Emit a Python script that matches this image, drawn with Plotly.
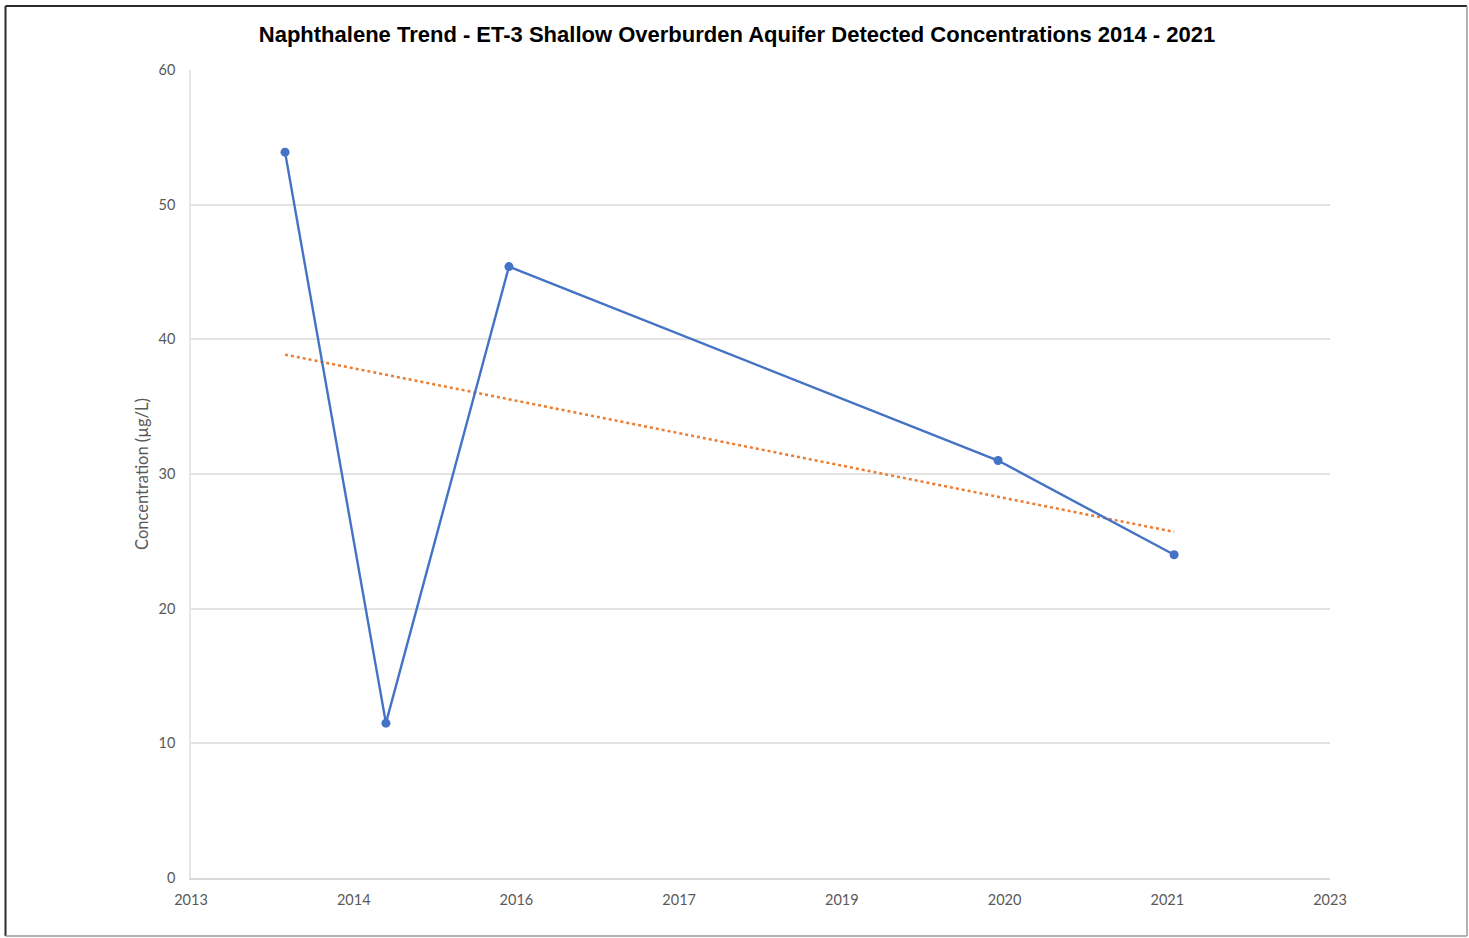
import numpy as np
import pandas as pd
import plotly.graph_objects as go

# Sampling dates and detected naphthalene concentrations (µg/L) at ET-3
sample_dates = ["2014-04-30", "2015-03-06", "2016-03-18", "2020-04-29", "2021-10-22"]
concentrations = [53.9, 11.5, 45.4, 31.0, 24.0]

# Date axis: 500-day major unit starting mid-2013
axis_start = "2013-07-15"
major_unit_days = 500
n_ticks = 8

y_ticks = [0, 10, 20, 30, 40, 50, 60]

BLUE = "#4472C4"
ORANGE = "#ED7D31"
GREY_TXT = "#595959"
GRID = "#E3E3E3"

dates = pd.to_datetime(sample_dates)
tick_dates = pd.date_range(axis_start, periods=n_ticks, freq=f"{major_unit_days}D")

# Linear trendline (least squares on date ordinal)
x_num = np.array([d.toordinal() for d in dates], dtype=float)
slope, intercept = np.polyfit(x_num, np.array(concentrations), 1)
trend_x = [dates[0], dates[-1]]
trend_y = [slope * x_num[0] + intercept, slope * x_num[-1] + intercept]

fig = go.Figure()
fig.add_trace(go.Scatter(
    x=trend_x, y=trend_y, mode="lines",
    line=dict(color=ORANGE, width=2.5, dash="dot"),
    hoverinfo="skip", showlegend=False,
))
fig.add_trace(go.Scatter(
    x=dates, y=concentrations, mode="lines+markers",
    line=dict(color=BLUE, width=2.4),
    marker=dict(color=BLUE, size=9),
    showlegend=False,
))

W, H = 1469, 938
L, R, T, B = 191, 139, 70, 60
pw, ph = W - L - R, H - T - B


def px_x(p):
    return (p - L) / pw


def px_y(p):
    return (H - B - p) / ph


# Outer chart frame: darker on left/top, lighter on right/bottom
frame = [
    (px_x(5.5), px_y(6), px_x(5.5), px_y(936), "#2b2b2b", 2),
    (px_x(5.5), px_y(6), px_x(1467), px_y(6), "#2b2b2b", 2),
    (px_x(1467), px_y(6), px_x(1467), px_y(936), "#9a9a9a", 1.5),
    (px_x(5.5), px_y(936), px_x(1467), px_y(936), "#9a9a9a", 1.5),
]
shapes = [
    dict(type="line", xref="paper", yref="paper", x0=a, y0=b, x1=c, y1=d,
         line=dict(color=col, width=w), layer="above")
    for a, b, c, d, col, w in frame
]

fig.update_layout(
    width=W, height=H,
    margin=dict(l=L, r=R, t=T, b=B, autoexpand=False),
    paper_bgcolor="white", plot_bgcolor="white",
    title=dict(
        text="<b>Naphthalene Trend - ET-3 Shallow Overburden Aquifer Detected Concentrations 2014 - 2021</b>",
        x=737 / W, xref="container", xanchor="center",
        y=1 - 34 / H, yanchor="middle",
        font=dict(family="Liberation Sans, Arial", size=22, color="black"),
    ),
    shapes=shapes,
    xaxis=dict(
        type="date",
        range=[tick_dates[0], tick_dates[-1]],
        tickmode="array", tickvals=list(tick_dates),
        ticktext=[d.strftime("%Y") for d in tick_dates],
        showgrid=False, zeroline=False,
        showline=True, linecolor="#D9D9D9", linewidth=1.5,
        ticks="outside", ticklen=8, tickcolor="rgba(0,0,0,0)",
        tickfont=dict(family="Lato, Carlito, sans-serif", size=14.5, color=GREY_TXT),
        automargin=False,
    ),
    yaxis=dict(
        range=[0, 60], tickmode="array", tickvals=y_ticks,
        showgrid=True, gridcolor=GRID, gridwidth=1.5,
        zeroline=False, showline=True, linecolor="#E6E6E6", linewidth=1.5,
        ticks="outside", ticklen=11, tickcolor="rgba(0,0,0,0)",
        tickfont=dict(family="Lato, Carlito, sans-serif", size=14.5, color=GREY_TXT),
        title=dict(text="Concentration (µg/L)", standoff=6,
                   font=dict(family="Lato, Carlito, sans-serif", size=16.5, color=GREY_TXT)),
        automargin=False,
    ),
)

fig.write_html("out.html")
